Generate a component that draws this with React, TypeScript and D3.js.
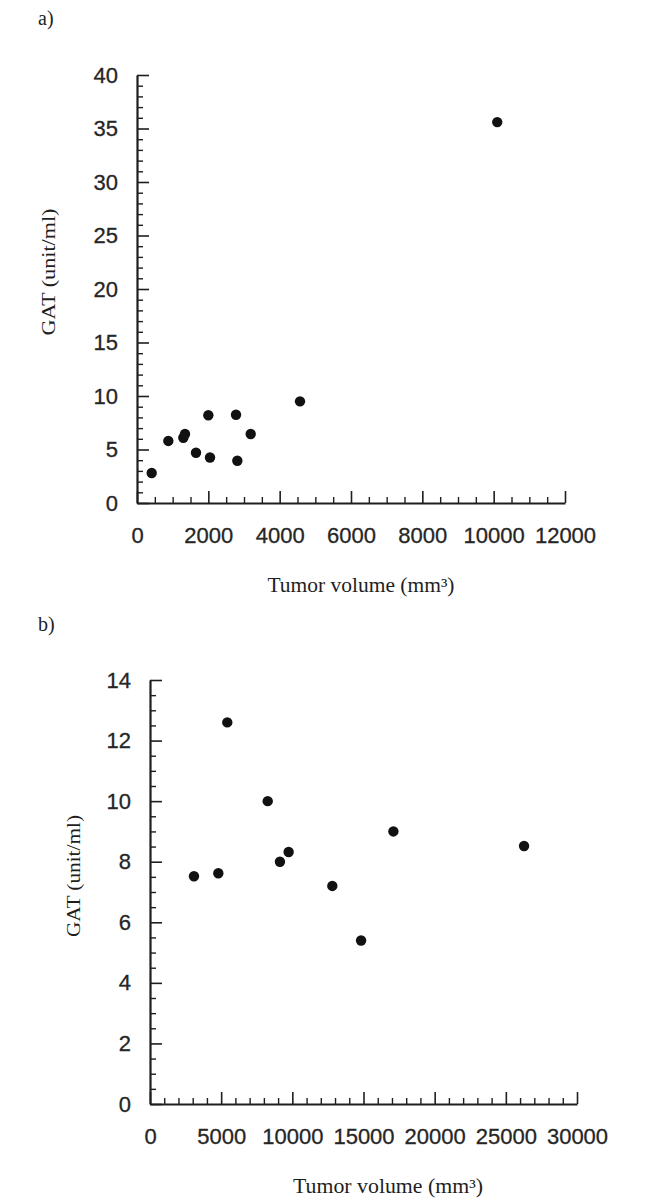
import React, { useEffect, useRef } from "react";
import * as d3 from "d3";

// ── Data ──────────────────────────────────────────────────────────────
const volA = [412, 878, 1299, 1346, 1654, 2000, 2047, 2776, 2813, 3188, 4570, 10100];
const gatA = [2.8, 5.8, 6.1, 6.45, 4.7, 8.2, 4.25, 8.25, 3.95, 6.45, 9.5, 35.6];

const volB = [3090, 4800, 5430, 8270, 9130, 9740, 12810, 14830, 17100, 26280];
const gatB = [7.52, 7.62, 12.6, 10.0, 8.0, 8.32, 7.2, 5.4, 9.0, 8.52];

const xTicksA = [0, 2000, 4000, 6000, 8000, 10000, 12000];
const yTicksA = [0, 5, 10, 15, 20, 25, 30, 35, 40];
const xTicksB = [0, 5000, 10000, 15000, 20000, 25000, 30000];
const yTicksB = [0, 2, 4, 6, 8, 10, 12, 14];

const X_TITLE = "Tumor volume (mm³)";
const Y_TITLE = "GAT (unit/ml)";

const W = 661;
const H = 1200;
const INK = "#1e1e1e";
const SANS = "'Liberation Sans', Arial, sans-serif";
const SERIF = "'Liberation Serif', 'Times New Roman', serif";

// panel geometry
const PANELS = [
  {
    tag: "a)", tagX: 38, tagY: 25,
    vol: volA, gat: gatA, xTicks: xTicksA, yTicks: yTicksA,
    xMinor: 500, yMinor: 1,
    left: 137, right: 565, top: 75, bottom: 503,
    xTitleX: 361, xTitleY: 592, xTitleLen: 187,
    yTitleX: 48, yTitleY: 272, yTitleLen: 127,
  },
  {
    tag: "b)", tagX: 38, tagY: 631,
    vol: volB, gat: gatB, xTicks: xTicksB, yTicks: yTicksB,
    xMinor: 1000, yMinor: 0.5,
    left: 150, right: 577, top: 680, bottom: 1104,
    xTitleX: 388, xTitleY: 1193, xTitleLen: 190,
    yTitleX: 73, yTitleY: 876, yTitleLen: 122,
  },
];

const styleAxis = (ax: any) => {
  ax.attr("font-size", null).attr("font-family", null).attr("color", INK);
  ax.selectAll(".tick line").attr("stroke-width", 1.6);
  ax.selectAll(".tick text")
    .attr("font-size", "22px")
    .attr("font-family", SANS)
    .attr("fill", "#262626")
    .attr("stroke", "#262626")
    .attr("stroke-width", 0.3);
};

const App = () => {
  const svgRef = useRef<SVGSVGElement | null>(null);

  useEffect(() => {
    if (!svgRef.current) return;
    const svg = d3.select(svgRef.current);
    svg.selectAll("*").remove();

    svg.append("rect").attr("width", W).attr("height", H).attr("fill", "#fff");

    PANELS.forEach((p) => {
      const xMax = p.xTicks[p.xTicks.length - 1];
      const yMax = p.yTicks[p.yTicks.length - 1];
      const x = d3.scaleLinear().domain([0, xMax]).range([p.left, p.right]);
      const y = d3.scaleLinear().domain([0, yMax]).range([p.bottom, p.top]);

      const xMinors = d3.range(0, xMax + 1e-6, p.xMinor).filter((v) => !p.xTicks.includes(v));
      const yMinors = d3.range(0, yMax + 1e-6, p.yMinor).filter((v) => !p.yTicks.some((t) => Math.abs(t - v) < 1e-6));

      // panel tag
      svg.append("text")
        .attr("x", p.tagX).attr("y", p.tagY)
        .attr("font-family", SERIF).attr("font-size", "20px")
        .attr("fill", INK)
        .text(p.tag);

      // minor ticks
      svg.append("g")
        .attr("transform", `translate(0,${p.bottom})`)
        .call(d3.axisBottom(x).tickValues(xMinors).tickSize(-6).tickFormat(() => ""))
        .call((ax) => ax.select(".domain").remove())
        .call((ax) => ax.selectAll(".tick line").attr("stroke", INK).attr("stroke-width", 1.4));
      svg.append("g")
        .attr("transform", `translate(${p.left},0)`)
        .call(d3.axisLeft(y).tickValues(yMinors).tickSize(-6).tickFormat(() => ""))
        .call((ax) => ax.select(".domain").remove())
        .call((ax) => ax.selectAll(".tick line").attr("stroke", INK).attr("stroke-width", 1.4));

      // major axes
      svg.append("g")
        .attr("transform", `translate(0,${p.bottom})`)
        .call(d3.axisBottom(x).tickValues(p.xTicks).tickSizeInner(-12).tickSizeOuter(0).tickPadding(24).tickFormat(d3.format("d")))
        .call((ax) => ax.select(".domain").attr("stroke-width", 2.2))
        .call(styleAxis);
      svg.append("g")
        .attr("transform", `translate(${p.left},0)`)
        .call(d3.axisLeft(y).tickValues(p.yTicks).tickSizeInner(-12).tickSizeOuter(0).tickPadding(19).tickFormat(d3.format("d")))
        .call((ax) => ax.select(".domain").attr("stroke-width", 2.2))
        .call(styleAxis);

      // points
      svg.append("g")
        .selectAll("circle")
        .data(p.vol.map((v, i) => [v, p.gat[i]]))
        .join("circle")
        .attr("cx", (d) => x(d[0]))
        .attr("cy", (d) => y(d[1]))
        .attr("r", 5.2)
        .attr("fill", "#111");

      // axis titles
      svg.append("text")
        .attr("x", p.xTitleX - p.xTitleLen / 2).attr("y", p.xTitleY)
        .attr("font-family", SERIF).attr("font-size", "20px")
        .attr("textLength", p.xTitleLen).attr("lengthAdjust", "spacingAndGlyphs")
        .attr("fill", INK)
        .text(X_TITLE);

      svg.append("text")
        .attr("transform", `translate(${p.yTitleX},${p.yTitleY}) rotate(-90)`)
        .attr("x", -p.yTitleLen / 2)
        .attr("dy", "0.35em")
        .attr("font-family", SERIF).attr("font-size", "19px")
        .attr("textLength", p.yTitleLen).attr("lengthAdjust", "spacingAndGlyphs")
        .attr("fill", INK)
        .text(Y_TITLE);
    });
  }, []);

  return (
    <svg
      ref={svgRef}
      width={W}
      height={H}
      style={{ position: "absolute", left: 0, top: 0, display: "block" }}
    />
  );
};

export default App;
